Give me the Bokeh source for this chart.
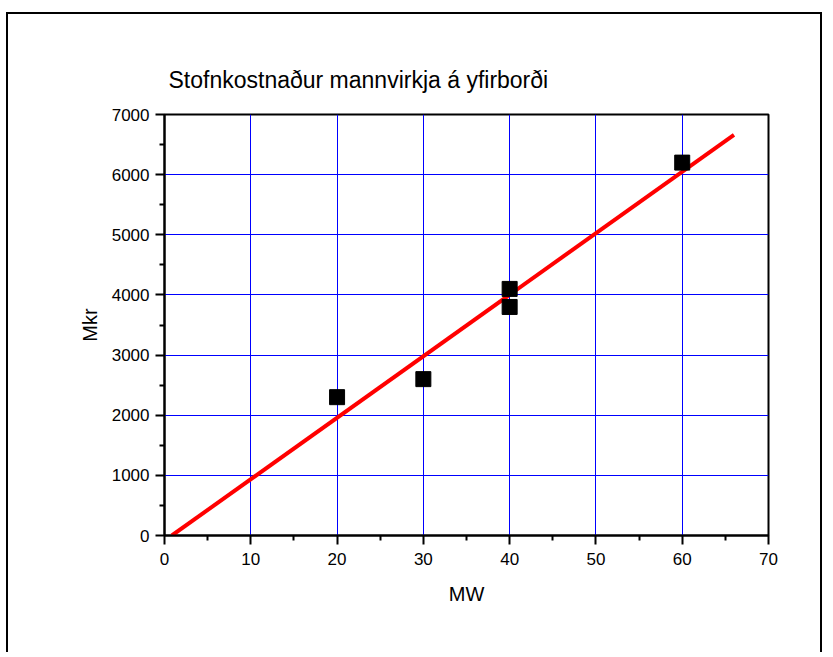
from bokeh.plotting import figure
from bokeh.embed import file_html
from bokeh.resources import INLINE
from bokeh.models import Range1d, FixedTicker

# Data
mw = [20, 30, 40, 40, 60]
mkr = [2300, 2600, 4100, 3800, 6200]
fit_x = [0.85, 66.0]
fit_y = [0, 6663]
x_ticks = [0, 10, 20, 30, 40, 50, 60, 70]
y_ticks = [0, 1000, 2000, 3000, 4000, 5000, 6000, 7000]
title_text = "Stofnkostnaður mannvirkja á yfirborði"

FONT = "Liberation Sans"

p = figure(width=816, height=640, output_backend="svg", toolbar_location=None,
           x_range=Range1d(0, 70), y_range=Range1d(0, 7000),
           min_border_left=156, min_border_right=56,
           min_border_top=100, min_border_bottom=119)

p.styles = {"border-top": "2px solid black", "border-left": "2px solid black",
            "border-right": "2px solid black", "margin-top": "12px", "margin-left": "6px"}

p.title.text = title_text
p.title.text_font = FONT
p.title.text_font_size = "23px"
p.title.text_font_style = "normal"
p.title.text_color = "black"
p.title.align = "left"
p.title.offset = 4
p.title.standoff = 44

p.outline_line_color = "black"
p.outline_line_width = 2
p.background_fill_color = "white"
p.border_fill_color = "white"

p.xgrid.ticker = FixedTicker(ticks=x_ticks)
p.ygrid.ticker = FixedTicker(ticks=y_ticks)
for g in (p.xgrid[0], p.ygrid[0]):
    g.grid_line_color = "#0000ff"
    g.grid_line_width = 1

p.xaxis.ticker = FixedTicker(ticks=x_ticks, minor_ticks=[5, 15, 25, 35, 45, 55, 65])
p.yaxis.ticker = FixedTicker(ticks=y_ticks, minor_ticks=[500, 1500, 2500, 3500, 4500, 5500, 6500])

for ax in (p.xaxis[0], p.yaxis[0]):
    ax.axis_line_color = "black"
    ax.axis_line_width = 2
    ax.major_tick_line_color = "black"
    ax.major_tick_line_width = 2
    ax.minor_tick_line_color = "black"
    ax.minor_tick_line_width = 2
    ax.major_tick_in = 0
    ax.major_tick_out = 9
    ax.minor_tick_in = 0
    ax.minor_tick_out = 5
    ax.major_label_text_font = FONT
    ax.major_label_text_font_size = "17px"
    ax.major_label_text_color = "black"
    ax.axis_label_text_font = FONT
    ax.axis_label_text_font_size = "20px"
    ax.axis_label_text_font_style = "normal"
    ax.axis_label_text_color = "black"

p.xaxis.axis_label = "MW"
p.yaxis.axis_label = "Mkr"
p.xaxis.major_label_standoff = 8
p.yaxis.major_label_standoff = 6
p.xaxis.axis_label_standoff = 15
p.yaxis.axis_label_standoff = 8

p.line(fit_x, fit_y, line_color="#ff0000", line_width=4)
p.scatter(mw, mkr, marker="square", size=15, fill_color="black", line_color="black")

open("out.html", "w").write(file_html(p, INLINE))
